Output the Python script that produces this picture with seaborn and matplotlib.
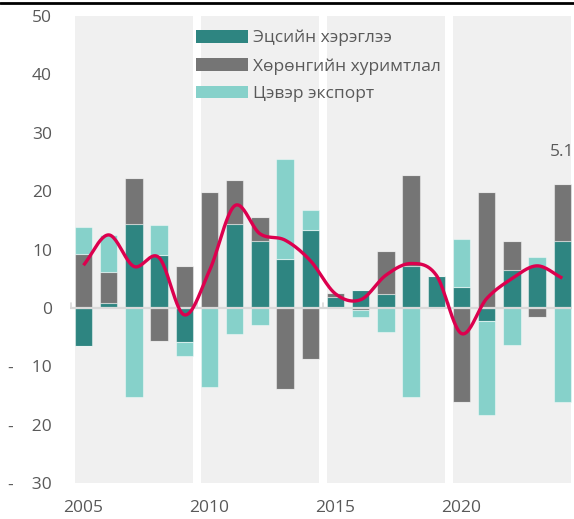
import numpy as np
import pandas as pd
import matplotlib
matplotlib.use("Agg")
import matplotlib.pyplot as plt
from matplotlib.patches import Patch
import seaborn as sns

# ---- data ----
years = list(range(2005, 2025))
consumption = [-6.5, 0.9, 14.3, 9.1, -5.8, 0.0, 14.3, 11.5, 8.4, 13.4,
               1.8, 3.1, 2.3, 7.2, 5.5, 3.5, -2.2, 6.5, 7.1, 11.5]
investment = [9.3, 5.3, 8.0, -5.6, 7.1, 19.9, 7.6, 4.1, -13.9, -8.7,
              0.7, -0.3, 7.5, 15.6, 0.0, -16.2, 19.9, 4.9, -1.6, 9.7]
net_export = [4.5, 6.3, -15.2, 5.1, -2.5, -13.5, -4.4, -2.9, 17.1, 3.4,
              -0.1, -1.2, -4.2, -15.2, 0.0, 8.3, -16.1, -6.4, 1.7, -16.1]
gdp_growth = [7.3, 12.5, 7.1, 8.6, -1.2, 6.4, 17.5, 12.7, 11.6, 8.1,
              2.4, 1.4, 5.6, 7.6, 5.6, -4.4, 1.6, 5.0, 7.2, 5.1]
series_names = ["Эцсийн хэрэглээ", "Хөрөнгийн хуримтлал", "Цэвэр экспорт"]
ytick_values = [50, 40, 30, 20, 10, 0, -10, -20, -30]
xtick_labels = ["2005", "2010", "2015", "2020"]
last_label = "5.1"

colors = ["#2E8581", "#757575", "#86D1CA"]
band_color = "#F0F0F0"
line_color = "#DC004E"
text_color = "#595959"

sns.set_theme(style="white")
plt.rcParams["font.family"] = ["Open Sans", "DejaVu Sans"]

fig = plt.figure(figsize=(5.74, 5.19), dpi=100)
ax = fig.add_axes([70 / 574, (519 - 483) / 519, 502 / 574, (483 - 16) / 519])

n = len(years)
xpos = np.arange(n)
bw = 0.69

# shaded bands per 5-year block
for g in range(0, n, 5):
    ax.axvspan(g - bw / 2, g + 4 + bw / 2, color=band_color, zorder=0, lw=0)

# stacked bars, positives and negatives separately
pos_bottom = np.zeros(n)
neg_bottom = np.zeros(n)
df_list = [consumption, investment, net_export]
for vals, col in zip(df_list, colors):
    v = np.array(vals, dtype=float)
    pos = np.where(v > 0, v, 0.0)
    neg = np.where(v < 0, v, 0.0)
    sns.barplot(x=xpos, y=pos, bottom=pos_bottom, color=col, width=bw,
                native_scale=True, ax=ax, saturation=1,
                edgecolor=(1, 1, 1, 0.45), linewidth=0.8, zorder=2)
    sns.barplot(x=xpos, y=neg, bottom=neg_bottom, color=col, width=bw,
                native_scale=True, ax=ax, saturation=1,
                edgecolor=(1, 1, 1, 0.45), linewidth=0.8, zorder=2)
    pos_bottom += pos
    neg_bottom += neg

# zero line with small group ticks
xmin, xmax = -(83.5 - 70) / 25.2, (572 - 83.5) / 25.2
ax.axhline(0, color="#D9D9D9", lw=1.6, zorder=3)
for g in range(0, n + 1, 5):
    ax.plot([g - 0.5, g - 0.5], [0, 0.9], color="#D9D9D9", lw=1.2, zorder=3)

# smooth GDP line (Catmull-Rom rendering of the data points)
px = xpos.astype(float)
py = np.array(gdp_growth, dtype=float)
ext_x = np.concatenate([[2 * px[0] - px[1]], px, [2 * px[-1] - px[-2]]])
ext_y = np.concatenate([[2 * py[0] - py[1]], py, [2 * py[-1] - py[-2]]])
sx, sy = [], []
t = np.linspace(0, 1, 25)
for i in range(1, len(ext_x) - 2):
    p0, p1, p2, p3 = [np.array([ext_x[j], ext_y[j]]) for j in (i - 1, i, i + 1, i + 2)]
    for tt in t[:-1] if i < len(ext_x) - 3 else t:
        pt = 0.5 * ((2 * p1) + (-p0 + p2) * tt + (2 * p0 - 5 * p1 + 4 * p2 - p3) * tt ** 2
                    + (-p0 + 3 * p1 - 3 * p2 + p3) * tt ** 3)
        sx.append(pt[0]); sy.append(pt[1])
curve = pd.DataFrame({"x": sx, "y": sy})
sns.lineplot(data=curve, x="x", y="y", color=line_color, lw=2.4, ax=ax,
             sort=False, estimator=None, zorder=5, solid_capstyle="butt")

# label above final bar
ax.text(xpos[-1], 26.7, last_label, ha="center", va="center",
        fontsize=12.5, color=text_color)

ax.set_xlim(xmin, xmax)
ax.set_ylim(-30, 50)
ax.set_xticks([years.index(int(s)) for s in xtick_labels])
ax.set_xticklabels(xtick_labels)
ax.set_yticks(ytick_values)
ax.set_yticklabels([f"{v}" if v >= 0 else f"-    {abs(v)}" for v in ytick_values])
ax.tick_params(axis="x", length=0, pad=12, labelsize=12.5, colors=text_color)
ax.tick_params(axis="y", length=0, pad=13, labelsize=12.5, colors=text_color)
for lbl in ax.get_yticklabels():
    lbl.set_horizontalalignment("right")
ax.set_xlabel("")
ax.set_ylabel("")
for s in ax.spines.values():
    s.set_visible(False)
ax.set_facecolor("none")
ax.grid(False)

handles = [Patch(facecolor=c, edgecolor="none") for c in colors]
fig.legend(handles, series_names, loc="upper left",
           bbox_to_anchor=(196 / 574, 1 - 30 / 519), frameon=False,
           fontsize=12.5, handlelength=3.0, handleheight=0.7,
           handletextpad=0.3, labelspacing=0.67, borderpad=0,
           borderaxespad=0, labelcolor=text_color)

# top rule
fig.add_artist(plt.Line2D([0, 1], [1 - 3 / 519, 1 - 3 / 519],
                          transform=fig.transFigure, color="black", lw=2))

fig.savefig("out.png", dpi=100)
